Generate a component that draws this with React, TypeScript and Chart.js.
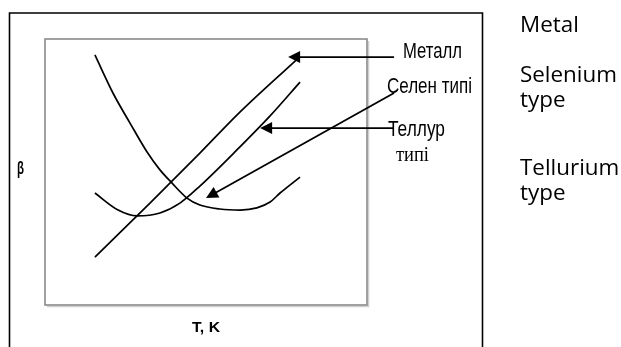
import React, { useEffect, useRef } from "react";
import { Chart, registerables } from "chart.js";

Chart.register(...registerables);

// ---- Data (T in arbitrary units 0..10, beta in arbitrary units 0..10) ----
const metalT = [1.55, 3.26, 4.81, 6.06, 7.8];
const metalBeta = [1.8, 3.83, 5.71, 7.26, 9.21];

const seleniumT = [1.55, 2.11, 2.64, 3.17, 3.57, 3.94, 4.41, 4.81, 5.43, 6.06, 6.58, 6.99, 7.3, 7.92];
const seleniumBeta = [9.4, 7.97, 6.84, 5.75, 5.08, 4.59, 4.02, 3.76, 3.61, 3.57, 3.65, 3.87, 4.21, 4.81];

const telluriumT = [1.55, 2.27, 2.86, 3.57, 4.19, 4.81, 5.96, 6.99, 7.92];
const telluriumBeta = [4.21, 3.57, 3.35, 3.46, 3.83, 4.47, 5.83, 7.11, 8.38];

// arrows (tail -> head) in data units
const arrowFromT = [10.84, 10.84, 10.81];
const arrowFromBeta = [9.32, 7.97, 6.65];
const arrowToT = [7.55, 5.0, 6.68];
const arrowToBeta = [9.32, 4.02, 6.65];

// texts
const annotationLabels = ["Металл", "Селен типі", "Теллур", "типі"];
const sideLabels = ["Metal", "Selenium", "type", "Tellurium", "type"];
const xTitle = "T, K";
const yTitle = "β";

function drawFit(
  ctx: CanvasRenderingContext2D,
  text: string,
  x: number,
  y: number,
  font: string,
  width: number | null,
  align: "left" | "center" = "left"
) {
  ctx.save();
  ctx.font = font;
  ctx.fillStyle = "#000";
  ctx.textBaseline = "alphabetic";
  ctx.textAlign = "left";
  const w = ctx.measureText(text).width;
  const sx = width ? width / w : 1;
  const realW = w * sx;
  ctx.translate(align === "center" ? x - realW / 2 : x, y);
  ctx.scale(sx, 1);
  ctx.fillText(text, 0, 0);
  ctx.restore();
}

const framePlugin = {
  id: "framePlugin",
  beforeDraw(chart: any) {
    const ctx = chart.ctx as CanvasRenderingContext2D;
    ctx.save();
    ctx.fillStyle = "#fff";
    ctx.fillRect(0, 0, chart.width, chart.height);
    ctx.restore();
  },
  beforeDatasetsDraw(chart: any) {
    const ctx = chart.ctx as CanvasRenderingContext2D;
    const a = chart.chartArea;
    ctx.save();
    // inner box shadow
    ctx.strokeStyle = "#d0d0d0";
    ctx.lineWidth = 1.5;
    ctx.beginPath();
    ctx.moveTo(a.right + 1.5, a.top + 2);
    ctx.lineTo(a.right + 1.5, a.bottom + 1.5);
    ctx.lineTo(a.left + 2, a.bottom + 1.5);
    ctx.stroke();
    // inner box
    ctx.strokeStyle = "#8a8a8a";
    ctx.lineWidth = 1.6;
    ctx.strokeRect(a.left, a.top, a.right - a.left, a.bottom - a.top);
    // outer box
    ctx.strokeStyle = "#000";
    ctx.lineWidth = 1.6;
    ctx.beginPath();
    ctx.moveTo(9.5, chart.height + 5);
    ctx.lineTo(9.5, 13);
    ctx.lineTo(482.5, 13);
    ctx.lineTo(482.5, chart.height + 5);
    ctx.stroke();
    ctx.restore();
  },
  afterDraw(chart: any) {
    const ctx = chart.ctx as CanvasRenderingContext2D;
    const xs = chart.scales.x;
    const ys = chart.scales.y;
    ctx.save();
    // arrows
    for (let i = 0; i < arrowFromT.length; i++) {
      const x1 = xs.getPixelForValue(arrowFromT[i]);
      const y1 = ys.getPixelForValue(arrowFromBeta[i]);
      const x2 = xs.getPixelForValue(arrowToT[i]);
      const y2 = ys.getPixelForValue(arrowToBeta[i]);
      const dx = x2 - x1;
      const dy = y2 - y1;
      const len = Math.hypot(dx, dy);
      const ux = dx / len;
      const uy = dy / len;
      const headL = 12;
      const headW = 6;
      const bx = x2 - ux * headL;
      const by = y2 - uy * headL;
      ctx.strokeStyle = "#000";
      ctx.lineWidth = 1.8;
      ctx.beginPath();
      ctx.moveTo(x1, y1);
      ctx.lineTo(bx + ux * 2, by + uy * 2);
      ctx.stroke();
      ctx.fillStyle = "#000";
      ctx.beginPath();
      ctx.moveTo(x2, y2);
      ctx.lineTo(bx - uy * headW, by + ux * headW);
      ctx.lineTo(bx + uy * headW, by - ux * headW);
      ctx.closePath();
      ctx.fill();
    }
    // annotation texts (condensed sans)
    const sans = "'Liberation Sans', Arial, sans-serif";
    drawFit(ctx, annotationLabels[0], 403, 58, `22px ${sans}`, 59);
    drawFit(ctx, annotationLabels[1], 387, 93, `22px ${sans}`, 85);
    drawFit(ctx, annotationLabels[2], 388, 136, `22px ${sans}`, 57);
    drawFit(ctx, annotationLabels[3], 396, 161, `20px 'Liberation Serif', 'Times New Roman', serif`, 33);
    // axis titles
    drawFit(ctx, yTitle, 17, 174, `bold 18px ${sans}`, 7);
    const a = chart.chartArea;
    drawFit(ctx, xTitle, (a.left + a.right) / 2, 332, `bold 15px ${sans}`, 28, "center");
    // side labels
    const side = "22px 'Open Sans', Lato, sans-serif";
    ctx.font = side;
    const sx = 97 / ctx.measureText(sideLabels[1]).width;
    const sideY = [32, 82, 107, 175, 200];
    for (let i = 0; i < sideLabels.length; i++) {
      ctx.font = side;
      const w = ctx.measureText(sideLabels[i]).width * sx;
      drawFit(ctx, sideLabels[i], 520, sideY[i], side, w);
    }
    ctx.restore();
  },
};

export default function App() {
  const ref = useRef<HTMLCanvasElement | null>(null);
  useEffect(() => {
    if (!ref.current) return;
    const mk = (xs: number[], ys: number[]) => xs.map((x, i) => ({ x, y: ys[i] }));
    const common = {
      borderColor: "#000",
      borderWidth: 1.7,
      pointRadius: 0,
      fill: false,
      cubicInterpolationMode: "monotone" as const,
    };
    const chart = new Chart(ref.current, {
      type: "line",
      data: {
        datasets: [
          { label: "Metal", data: mk(metalT, metalBeta), ...common },
          { label: "Selenium type", data: mk(seleniumT, seleniumBeta), ...common },
          { label: "Tellurium type", data: mk(telluriumT, telluriumBeta), ...common },
        ],
      },
      options: {
        responsive: false,
        animation: false,
        devicePixelRatio: 1,
        layout: { padding: { left: 45, top: 39, right: 254, bottom: 42 } },
        plugins: { legend: { display: false }, tooltip: { enabled: false } },
        scales: {
          x: { type: "linear", min: 0, max: 10, display: false },
          y: { type: "linear", min: 0, max: 10, display: false },
        },
      },
      plugins: [framePlugin],
    });
    return () => chart.destroy();
  }, []);
  return (
    <div style={{ position: "fixed", left: 0, top: 0, width: 621, height: 347, background: "#fff" }}>
      <canvas ref={ref} width={621} height={347} style={{ display: "block", width: 621, height: 347 }} />
    </div>
  );
}
